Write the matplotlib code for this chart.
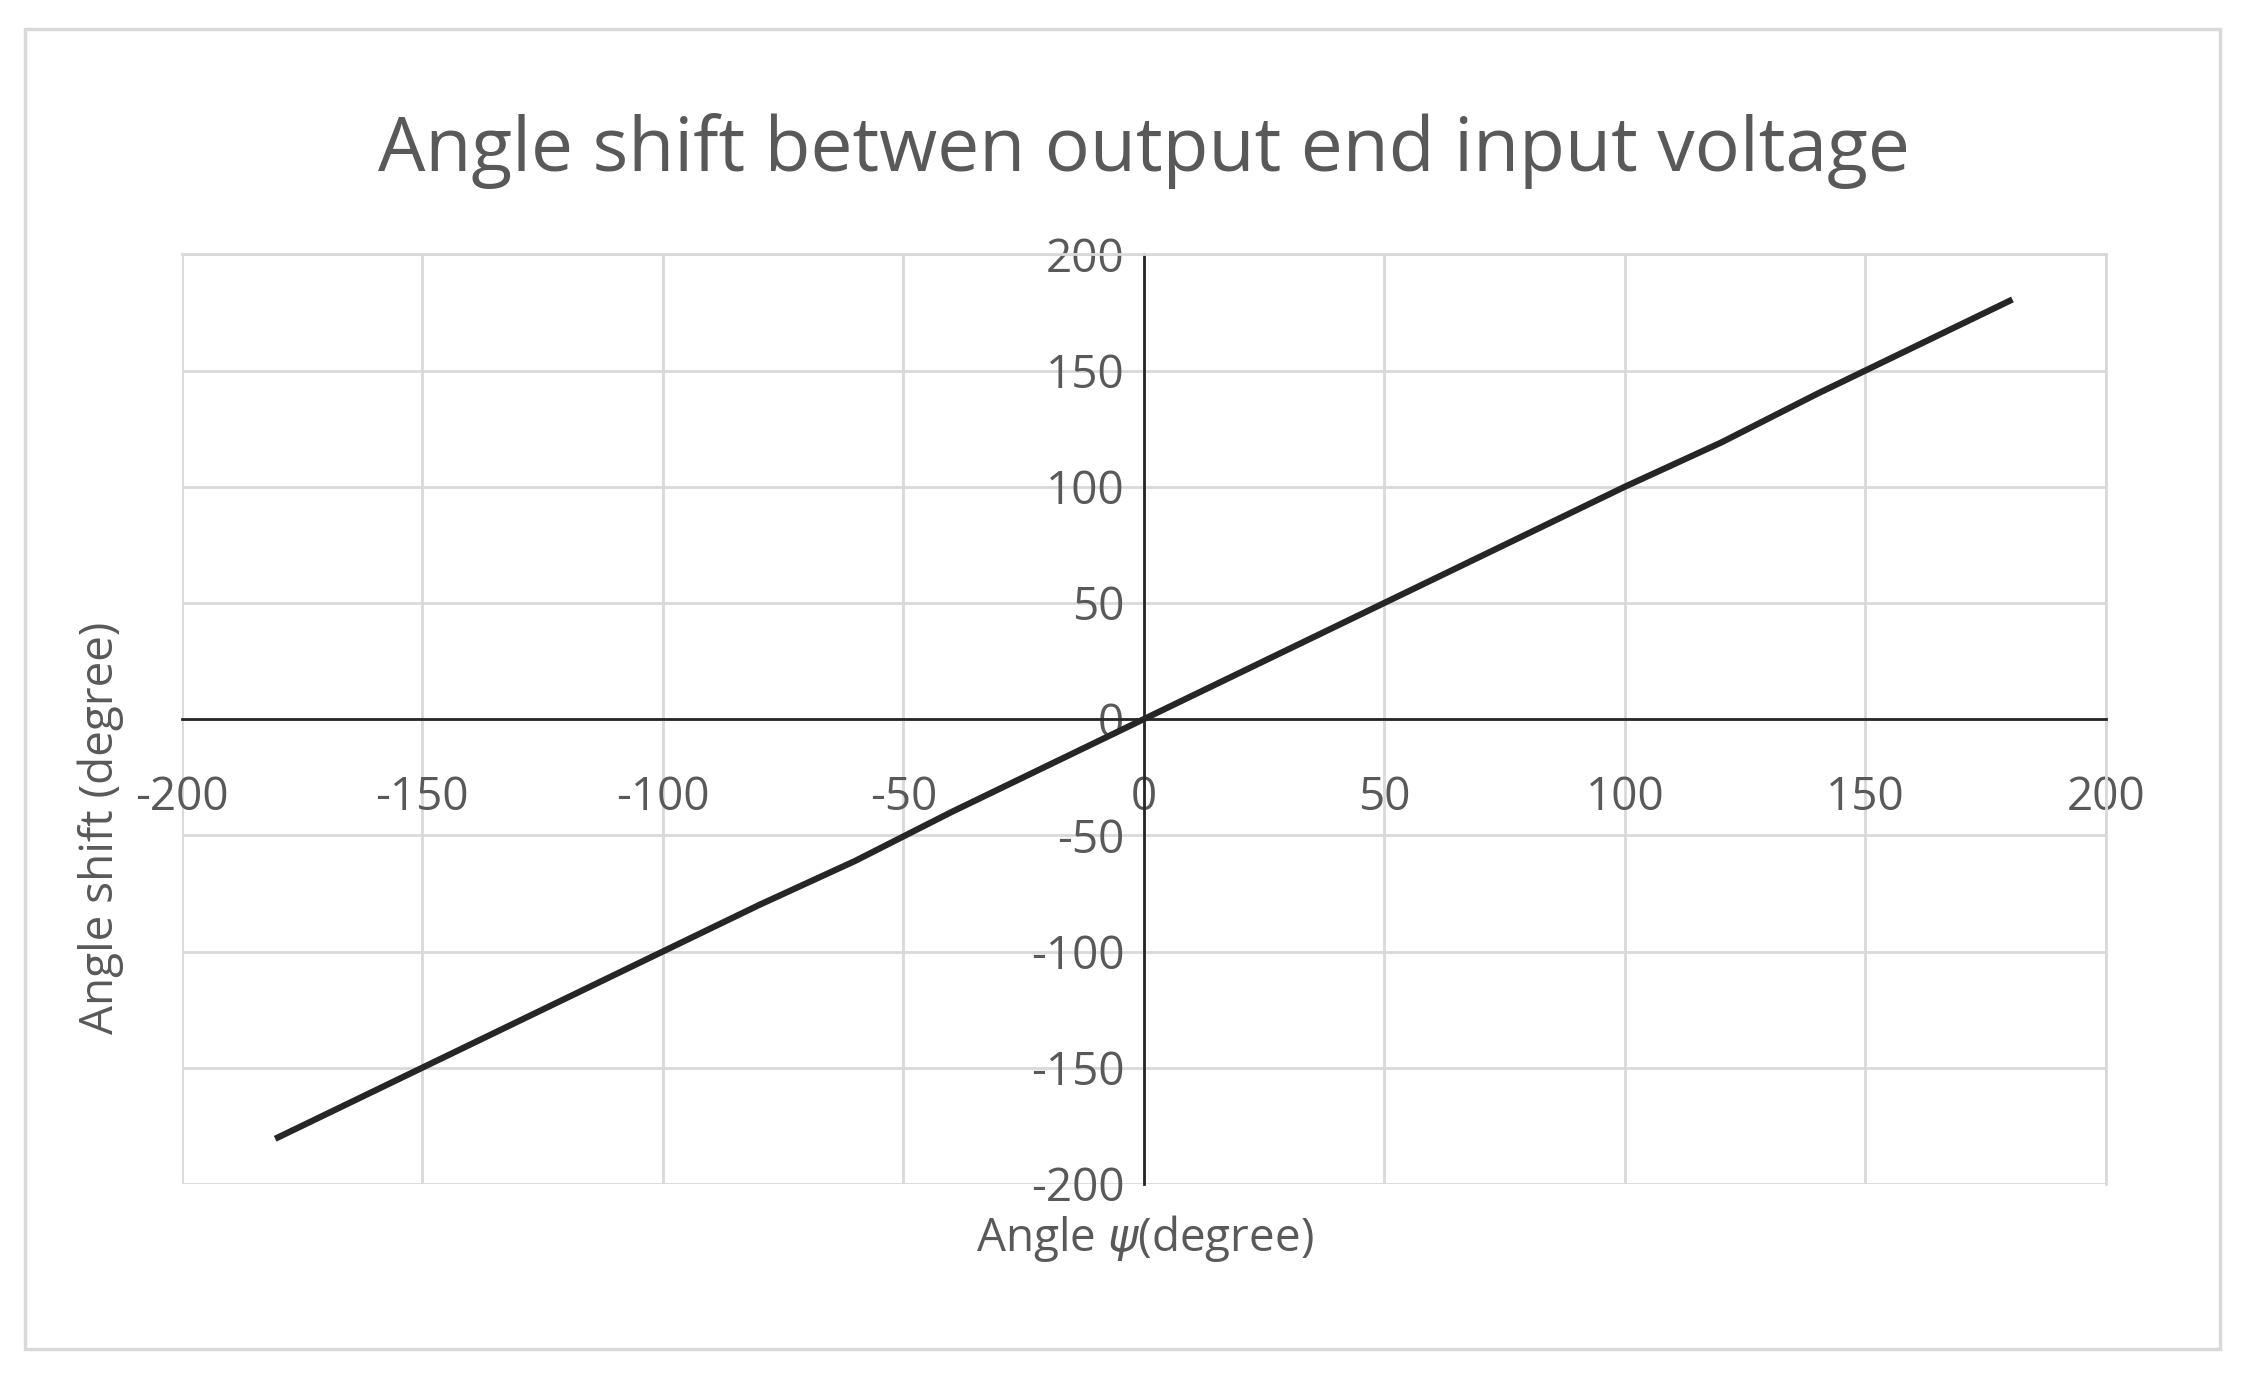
import matplotlib
matplotlib.use("Agg")
import matplotlib.pyplot as plt
from matplotlib.patches import Rectangle

x_vals = [-180, -160, -140, -120, -100, -80, -60, -40, -20, 0, 20, 40, 60, 80, 100, 120, 140, 160, 180]
y_vals = [-180, -160, -140, -120, -100, -80, -61, -40, -20, 0, 20, 40, 60, 80, 100, 119, 140, 160, 180]
ticks = [-200, -150, -100, -50, 0, 50, 100, 150, 200]

plt.rcParams['font.family'] = ['Open Sans', 'DejaVu Sans']
plt.rcParams['axes.unicode_minus'] = False
gray = '#595959'
fig = plt.figure(figsize=(22.45, 13.75), dpi=100)
fig.patches.append(Rectangle((0.011, 0.019), 0.978, 0.96, transform=fig.transFigure,
                             fill=False, edgecolor='#d9d9d9', linewidth=2.5))
ax = fig.add_axes([0.081, 0.139, 0.857, 0.676])
ax.plot(x_vals, y_vals, color='#262626', linewidth=4.5)
ax.set_xlim(-200, 200)
ax.set_ylim(-200, 200)
ax.set_xticks(ticks)
ax.set_yticks(ticks)
ax.grid(True, color='#d9d9d9', linewidth=2)
ax.set_axisbelow(True)
for s in ['left', 'bottom']:
    ax.spines[s].set_position('zero')
    ax.spines[s].set_color('#262626')
    ax.spines[s].set_linewidth(2)
for s in ['top', 'right']:
    ax.spines[s].set_color('#d9d9d9')
    ax.spines[s].set_linewidth(2)
ax.tick_params(length=0, labelsize=33, labelcolor=gray)
ax.tick_params(axis='x', pad=40)
ax.tick_params(axis='y', pad=14)
ax.set_title('Angle shift betwen output end input voltage', fontsize=54, color=gray, pad=60)
fig.text(0.045, 0.398, 'Angle shift (degree)', rotation=90, ha='center', va='center',
         fontsize=33, color=gray)
fig.text(0.51, 0.099, r'Angle $\psi$(degree)', ha='center', va='center', fontsize=33, color=gray)
fig.savefig('out.png', dpi=100, facecolor='white')
